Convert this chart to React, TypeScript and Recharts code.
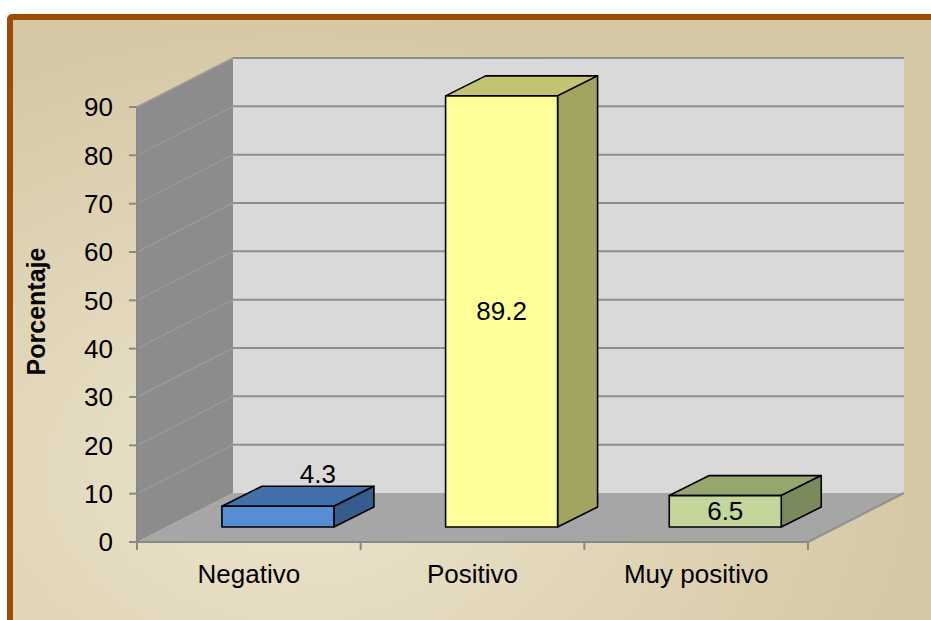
import React from 'react';
import {
  Bar,
  BarChart,
  CartesianGrid,
  LabelList,
  ReferenceArea,
  XAxis,
  YAxis,
} from 'recharts';

const categories = ['Negativo', 'Positivo', 'Muy positivo'];
const values = [4.3, 89.2, 6.5];
const yTicks = [0, 10, 20, 30, 40, 50, 60, 70, 80, 90];

const FRONT = ['#558ED5', '#FFFF99', '#C3D69B'];
const TOP = ['#4170AA', '#C3C373', '#95A66F'];
const SIDE = ['#355C8C', '#A3A362', '#7A8A5D'];

// depth of the walls, and where a bar sits inside that depth
const DX = 96;
const DY = -49;
const BAR_SHIFT_X = 29;
const BAR_SHIFT_Y = -15;
const BAR_DX = 40;
const BAR_DY = -20;

const FONT = '"Liberation Sans", Arial, sans-serif';
const AXIS_GRAY = '#888888';

const data = categories.map((name, i) => ({ name, value: values[i] }));

const Walls = (props: any) => {
  const { x, y, width, height } = props;
  const b = y + height;
  return (
    <g>
      <polygon
        points={`${x},${y} ${x + DX},${y + DY} ${x + DX},${b + DY} ${x},${b}`}
        fill="#8C8C8C"
      />
      <polygon
        points={`${x},${b} ${x + width},${b} ${x + width + DX},${b + DY} ${x + DX},${b + DY}`}
        fill="#A6A6A6"
      />
      <rect x={x + DX} y={y + DY} width={width} height={height} fill="#D9D9D9" />
      <line x1={x + DX} y1={y + DY} x2={x + DX + width} y2={y + DY} stroke="#8E8E8E" strokeWidth={2} />
      <line x1={x + width} y1={b} x2={x + width + DX} y2={b + DY} stroke="#909090" strokeWidth={2} />
    </g>
  );
};

const GridLine = (props: any) => {
  const { x1, y1, x2, y, height } = props;
  if (Math.abs(y1 - (y + height)) < 1) return <g key={props.key} />;
  return (
    <g key={props.key}>
      <line x1={x1} y1={y1} x2={x1 + DX} y2={y1 + DY} stroke="#9A9A9A" strokeWidth={1.5} />
      <line x1={x1 + DX} y1={y1 + DY} x2={x2 + DX} y2={y1 + DY} stroke="#8E8E8E" strokeWidth={2} />
    </g>
  );
};

// category label plus the tick marks on the band edges
const CategoryTick = (props: any) => {
  const { x, y, payload, index, visibleTicksCount, width } = props;
  const half = payload.offset ?? width / visibleTicksCount / 2;
  const last = index === visibleTicksCount - 1;
  return (
    <g>
      <line x1={x - half} y1={y} x2={x - half} y2={y + 8} stroke={AXIS_GRAY} strokeWidth={2} />
      {last && <line x1={x + half} y1={y} x2={x + half} y2={y + 8} stroke={AXIS_GRAY} strokeWidth={2} />}
      <text x={x} y={y + 41} textAnchor="middle" fontSize={26} fontFamily={FONT} fill="#000">
        {payload.value}
      </text>
    </g>
  );
};

const Bar3D = (props: any) => {
  const { x, y, width, height, index } = props;
  const fx = x + BAR_SHIFT_X;
  const fy = y + BAR_SHIFT_Y;
  const stroke = { stroke: '#000', strokeWidth: 1.6, strokeLinejoin: 'round' as const };
  return (
    <g>
      <polygon
        points={`${fx},${fy} ${fx + BAR_DX},${fy + BAR_DY} ${fx + width + BAR_DX},${fy + BAR_DY} ${fx + width},${fy}`}
        fill={TOP[index]}
        {...stroke}
      />
      <polygon
        points={`${fx + width},${fy} ${fx + width + BAR_DX},${fy + BAR_DY} ${fx + width + BAR_DX},${fy + height + BAR_DY} ${fx + width},${fy + height}`}
        fill={SIDE[index]}
        {...stroke}
      />
      <rect x={fx} y={fy} width={width} height={height} fill={FRONT[index]} {...stroke} />
    </g>
  );
};

const BarLabel = (props: any) => {
  const vb = props.viewBox || props;
  const { x, y, width, height } = vb;
  const fx = x + BAR_SHIFT_X;
  const fy = y + BAR_SHIFT_Y;
  let cx = fx + width / 2;
  let cy = fy + height / 2;
  if (height < 28) {
    cx += BAR_DX;
    cy = fy + BAR_DY - 12;
  }
  return (
    <text x={cx} y={cy} textAnchor="middle" dominantBaseline="central" fontSize={26} fontFamily={FONT} fill="#000">
      {props.value}
    </text>
  );
};

const YTitle = (props: any) => {
  const vb = props.viewBox;
  const cx = vb.x - 31;
  const cy = vb.y + vb.height / 2 - 13;
  return (
    <text
      x={cx}
      y={cy}
      transform={`rotate(-90 ${cx} ${cy})`}
      textAnchor="middle"
      dominantBaseline="central"
      fontSize={25}
      fontWeight="bold"
      fontFamily={FONT}
      fill="#000"
    >
      Porcentaje
    </text>
  );
};

export default function App() {
  return (
    <div style={{ position: 'absolute', left: 0, top: 0, width: 931, height: 620, overflow: 'hidden', background: '#fff' }}>
      <div
        style={{
          position: 'absolute',
          left: 7,
          top: 14,
          width: 940,
          height: 630,
          border: '6px solid #9E4B0A',
          borderRadius: 5,
          background: 'radial-gradient(ellipse 70% 75% at 30% 72%, #ECE4CE 0%, #E2D7BA 45%, #D4C7A3 100%)',
        }}
      />
      <div style={{ position: 'absolute', left: 0, top: 0 }}>
        <BarChart
          width={931}
          height={620}
          data={data}
          margin={{ top: 107, right: 123, left: 67, bottom: 30 }}
          barCategoryGap="25%"
        >
          <XAxis
            dataKey="name"
            height={48}
            interval={0}
            tickLine={false}
            tickSize={0}
            tickMargin={0}
            axisLine={{ stroke: AXIS_GRAY, strokeWidth: 2 }}
            tick={CategoryTick}
          />
          <YAxis
            domain={[0, 90]}
            ticks={yTicks}
            width={70}
            interval={0}
            tickSize={8}
            tickMargin={16}
            axisLine={{ stroke: AXIS_GRAY, strokeWidth: 2 }}
            tickLine={{ stroke: AXIS_GRAY, strokeWidth: 2 }}
            tick={{ fontSize: 26, fontFamily: FONT, fill: '#000' }}
            label={YTitle}
          />
          <ReferenceArea y1={0} y2={90} shape={Walls} ifOverflow="visible" zIndex={-200} />
          <CartesianGrid vertical={false} horizontal={GridLine} stroke="none" zIndex={-150} />
          <Bar dataKey="value" shape={Bar3D} isAnimationActive={false}>
            <LabelList dataKey="value" content={BarLabel} />
          </Bar>
        </BarChart>
      </div>
    </div>
  );
}
